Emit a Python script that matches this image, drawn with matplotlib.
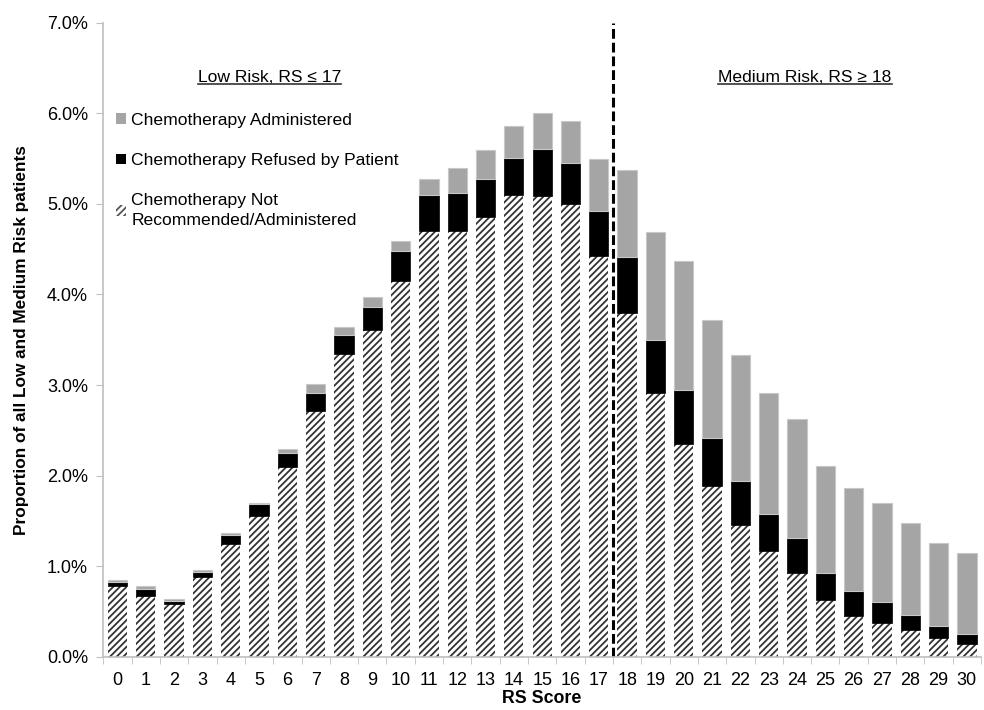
import matplotlib
matplotlib.use('Agg')
import matplotlib.pyplot as plt
from matplotlib.lines import Line2D
import numpy as np

plt.rcParams['font.family'] = ['Liberation Sans', 'DejaVu Sans']
plt.rcParams['hatch.linewidth'] = 1.3

# RS score categories and stacked segments (% of all low and medium risk patients)
rs_scores = list(range(31))
not_recommended = [0.78, 0.67, 0.58, 0.88, 1.25, 1.55, 2.09, 2.71, 3.34, 3.61, 4.15,
                   4.70, 4.70, 4.85, 5.10, 5.09, 5.00, 4.42, 3.80, 2.91, 2.35,
                   1.89, 1.46, 1.17, 0.93, 0.63, 0.45, 0.37, 0.29, 0.21, 0.14]
refused = [0.05, 0.08, 0.04, 0.06, 0.09, 0.14, 0.16, 0.20, 0.21, 0.25, 0.33,
           0.40, 0.42, 0.42, 0.41, 0.52, 0.45, 0.50, 0.61, 0.59, 0.60,
           0.52, 0.48, 0.41, 0.38, 0.30, 0.28, 0.23, 0.17, 0.13, 0.11]
administered = [0.02, 0.03, 0.02, 0.02, 0.03, 0.01, 0.04, 0.10, 0.09, 0.11, 0.11,
                0.18, 0.28, 0.32, 0.35, 0.39, 0.47, 0.57, 0.96, 1.19, 1.42,
                1.31, 1.39, 1.33, 1.31, 1.18, 1.13, 1.10, 1.02, 0.92, 0.90]
y_ticks = [0, 1, 2, 3, 4, 5, 6, 7]

fig = plt.figure(figsize=(9.84, 7.1), dpi=100)
ax = fig.add_axes([0.105, 0.075, 0.892, 0.893])

x = np.array(rs_scores)
nr = np.array(not_recommended)
rf = np.array(refused)
ad = np.array(administered)
w = 0.68

ax.bar(x, nr, w, color='white', edgecolor='#333333', linewidth=0, hatch='/////')
ax.bar(x, rf, w, bottom=nr, color='black', edgecolor='black', linewidth=0.5)
ax.bar(x, ad, w, bottom=nr + rf, color='#a5a5a5', edgecolor='#c8c8c8', linewidth=0.8)

# risk group divider
ax.axvline(17.5, color='black', lw=2.2, dashes=(3.2, 1.3))

ax.set_xlim(-0.5, 30.5)
ax.set_ylim(0, 7)
ax.set_yticks(y_ticks)
ax.set_yticklabels(['%.1f%%' % v for v in y_ticks])
ax.set_xticks(x)
ax.set_xticks(np.arange(-0.5, 31, 1), minor=True)
ax.tick_params(axis='x', which='major', length=0, labelsize=13, pad=11)
ax.tick_params(axis='x', which='minor', length=5, color='#bfbfbf', direction='out')
ax.tick_params(axis='y', length=5, color='#bfbfbf', labelsize=13, pad=6)

for s in ['top', 'right']:
    ax.spines[s].set_visible(False)
for s in ['left', 'bottom']:
    ax.spines[s].set_color('#bfbfbf')
    ax.spines[s].set_linewidth(1.2)

ax.set_xlabel('RS Score', fontsize=12.8, fontweight='bold', labelpad=1)
ax.set_ylabel('Proportion of all Low and Medium Risk patients', fontsize=12.4,
              fontweight='bold', labelpad=13)

# legend
handles = [
    plt.Rectangle((0, 0), 1, 1, facecolor='#a5a5a5', edgecolor='none'),
    plt.Rectangle((0, 0), 1, 1, facecolor='black', edgecolor='none'),
    plt.Rectangle((0, 0), 1, 1, facecolor='white', edgecolor='#555555', linewidth=0, hatch='/////'),
]
labels = ['Chemotherapy Administered', 'Chemotherapy Refused by Patient',
          'Chemotherapy Not\nRecommended/Administered']
leg = ax.legend(handles, labels, loc='upper left', bbox_to_anchor=(-0.003, 0.883),
                frameon=False, fontsize=12.6, handlelength=0.55, handleheight=0.55,
                handletextpad=0.3, labelspacing=1.45)
for txt in leg.get_texts():
    txt.set_linespacing(1.35)

# underlined group headings
t1 = ax.text(0.189, 0.914, 'Low Risk, RS \u2264 17', transform=ax.transAxes,
             ha='center', va='center', fontsize=12.6)
t2 = ax.text(0.7995, 0.914, 'Medium Risk, RS \u2265 18', transform=ax.transAxes,
             ha='center', va='center', fontsize=12.6)
fig.canvas.draw()
r = fig.canvas.get_renderer()
for t in (t1, t2):
    bb = t.get_window_extent(renderer=r)
    (x0, y0), (x1, _) = fig.transFigure.inverted().transform([[bb.x0, bb.y0 + 1], [bb.x1, bb.y0]])
    fig.add_artist(Line2D([x0, x1], [y0, y0], transform=fig.transFigure,
                          color='#333333', lw=1.2))

fig.savefig('out.png', dpi=100)
